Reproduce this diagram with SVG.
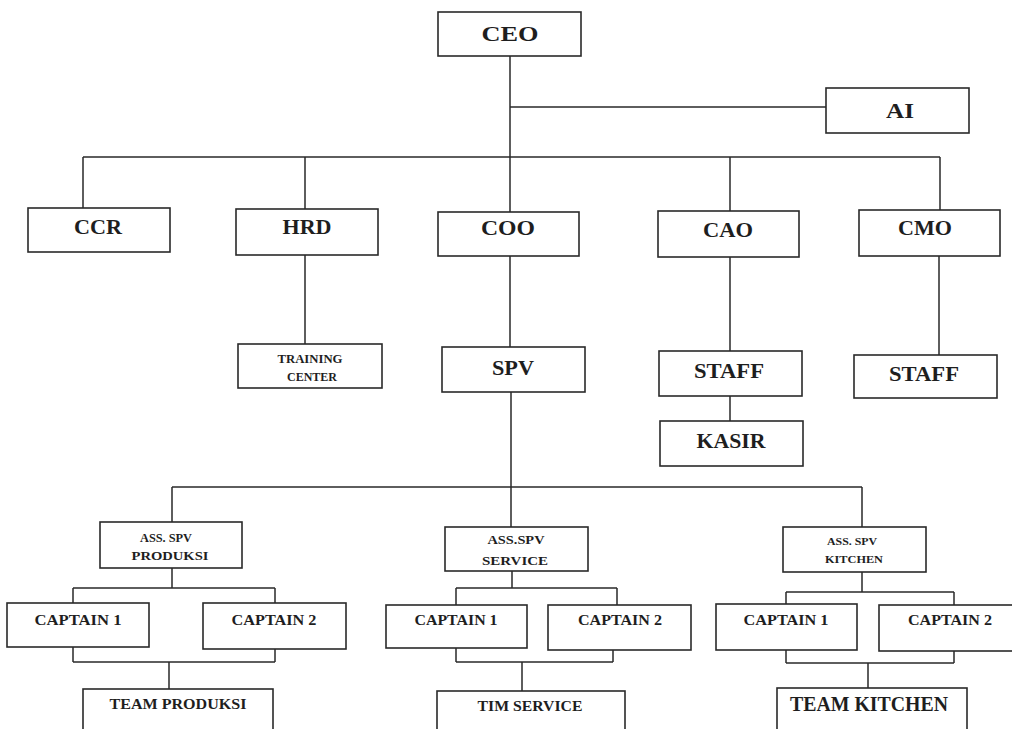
<svg xmlns="http://www.w3.org/2000/svg" width="1012" height="729" viewBox="0 0 1012 729">
<style>
.b{fill:#fff;stroke:#2a2a2a;stroke-width:1.6}
.c{fill:none;stroke:#2a2a2a;stroke-width:1.5}
text{font-family:"Liberation Serif","Times New Roman",serif;font-weight:bold;fill:#1e1e1e;text-anchor:middle}
</style>
<rect width="1012" height="729" fill="#fff"/>
<g id="connectors" class="c">
<path d="M510 56V212M510 107H826M83 157H940M83 157V208M305 157V209M730 157V211M940 157V210"/>
<path d="M305 255V344M510 256V347M511 392V527M730 257V351M730 396V421M939 256V355"/>
<path d="M172 487H862M172 487V522M862 487V527"/>
<path d="M172 568V588M73 588H275M73 588V603M275 588V603M73 647V662M275 649V662M73 662H275M169 662V689"/>
<path d="M512 571V588M456 588H617M456 588V605M617 588V605M456 648V662M613 650V662M456 662H613M522 662V691"/>
<path d="M862 572V592M786 592H954M786 592V605M954 592V605M786 650V663M954 651V663M786 663H954M868 663V688"/>
</g>
<g id="ceo"><rect class="b" x="438" y="12" width="143" height="44"/><text x="510" y="41" font-size="21" textLength="57" lengthAdjust="spacingAndGlyphs">CEO</text></g>
<g id="ai"><rect class="b" x="826" y="88" width="143" height="45"/><text x="900" y="118" font-size="22" textLength="28" lengthAdjust="spacingAndGlyphs">AI</text></g>
<g id="ccr"><rect class="b" x="28" y="208" width="142" height="44"/><text x="98" y="234" font-size="21" textLength="48" lengthAdjust="spacingAndGlyphs">CCR</text></g>
<g id="hrd"><rect class="b" x="236" y="209" width="142" height="46"/><text x="307" y="234" font-size="21" textLength="49" lengthAdjust="spacingAndGlyphs">HRD</text></g>
<g id="coo"><rect class="b" x="438" y="212" width="141" height="44"/><text x="508" y="235" font-size="21" textLength="54" lengthAdjust="spacingAndGlyphs">COO</text></g>
<g id="cao"><rect class="b" x="658" y="211" width="141" height="46"/><text x="728" y="237" font-size="21" textLength="50" lengthAdjust="spacingAndGlyphs">CAO</text></g>
<g id="cmo"><rect class="b" x="859" y="210" width="141" height="46"/><text x="925" y="235" font-size="21" textLength="54" lengthAdjust="spacingAndGlyphs">CMO</text></g>
<g id="training"><rect class="b" x="238" y="344" width="144" height="44"/><text x="310" y="363" font-size="12" textLength="65" lengthAdjust="spacingAndGlyphs">TRAINING</text><text x="312" y="381" font-size="12" textLength="50" lengthAdjust="spacingAndGlyphs">CENTER</text></g>
<g id="spv"><rect class="b" x="442" y="347" width="143" height="45"/><text x="513" y="375" font-size="20" textLength="42" lengthAdjust="spacingAndGlyphs">SPV</text></g>
<g id="staff-cao"><rect class="b" x="659" y="351" width="143" height="45"/><text x="729" y="378" font-size="21" textLength="70" lengthAdjust="spacingAndGlyphs">STAFF</text></g>
<g id="kasir"><rect class="b" x="660" y="421" width="143" height="45"/><text x="731" y="448" font-size="21" textLength="69" lengthAdjust="spacingAndGlyphs">KASIR</text></g>
<g id="staff-cmo"><rect class="b" x="854" y="355" width="143" height="43"/><text x="924" y="381" font-size="21" textLength="70" lengthAdjust="spacingAndGlyphs">STAFF</text></g>
<g id="ass-produksi"><rect class="b" x="100" y="522" width="142" height="46"/><text x="166" y="542" font-size="13" textLength="52" lengthAdjust="spacingAndGlyphs">ASS. SPV</text><text x="170" y="560" font-size="13" textLength="77" lengthAdjust="spacingAndGlyphs">PRODUKSI</text></g>
<g id="ass-service"><rect class="b" x="445" y="527" width="143" height="44"/><text x="516" y="544" font-size="13" textLength="57" lengthAdjust="spacingAndGlyphs">ASS.SPV</text><text x="515" y="565" font-size="13" textLength="66" lengthAdjust="spacingAndGlyphs">SERVICE</text></g>
<g id="ass-kitchen"><rect class="b" x="783" y="527" width="143" height="45"/><text x="852" y="545" font-size="11" textLength="50" lengthAdjust="spacingAndGlyphs">ASS. SPV</text><text x="854" y="563" font-size="11" textLength="58" lengthAdjust="spacingAndGlyphs">KITCHEN</text></g>
<g id="p-captain1"><rect class="b" x="7" y="603" width="142" height="44"/><text x="78" y="625" font-size="14" textLength="87" lengthAdjust="spacingAndGlyphs">CAPTAIN 1</text></g>
<g id="p-captain2"><rect class="b" x="203" y="603" width="143" height="46"/><text x="274" y="625" font-size="14" textLength="85" lengthAdjust="spacingAndGlyphs">CAPTAIN 2</text></g>
<g id="s-captain1"><rect class="b" x="386" y="605" width="141" height="43"/><text x="456" y="625" font-size="14" textLength="83" lengthAdjust="spacingAndGlyphs">CAPTAIN 1</text></g>
<g id="s-captain2"><rect class="b" x="548" y="605" width="143" height="45"/><text x="620" y="625" font-size="14" textLength="84" lengthAdjust="spacingAndGlyphs">CAPTAIN 2</text></g>
<g id="k-captain1"><rect class="b" x="716" y="604" width="141" height="46"/><text x="786" y="625" font-size="14" textLength="85" lengthAdjust="spacingAndGlyphs">CAPTAIN 1</text></g>
<g id="k-captain2"><rect class="b" x="879" y="605" width="143" height="46"/><text x="950" y="625" font-size="14" textLength="84" lengthAdjust="spacingAndGlyphs">CAPTAIN 2</text></g>
<g id="team-produksi"><rect class="b" x="83" y="689" width="190" height="70"/><text x="178" y="709" font-size="15" textLength="137" lengthAdjust="spacingAndGlyphs">TEAM PRODUKSI</text></g>
<g id="tim-service"><rect class="b" x="437" y="691" width="188" height="70"/><text x="530" y="711" font-size="15" textLength="105" lengthAdjust="spacingAndGlyphs">TIM SERVICE</text></g>
<g id="team-kitchen"><rect class="b" x="777" y="688" width="190" height="70"/><text x="869" y="711" font-size="20" textLength="158" lengthAdjust="spacingAndGlyphs">TEAM KITCHEN</text></g>
</svg>
